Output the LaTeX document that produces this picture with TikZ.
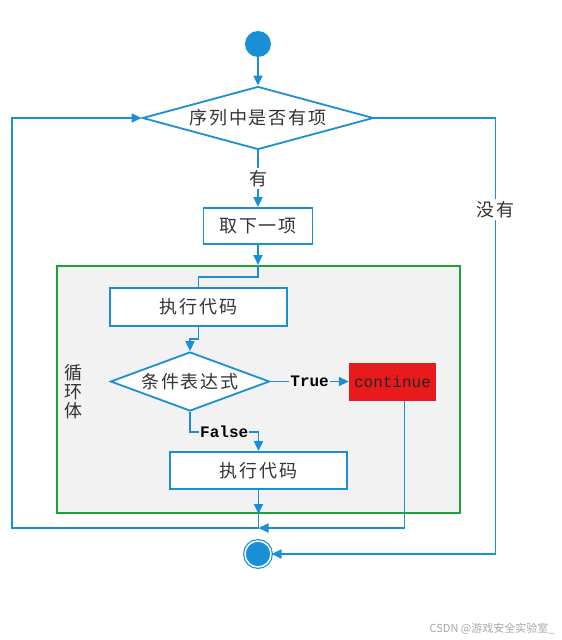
\documentclass[tikz,border=0pt]{standalone}
\usepackage{fontspec}
\setmainfont{Noto Sans CJK SC}[LetterSpace=10]
\newfontfamily\codefont{Liberation Mono}
\newfontfamily\markfont{Noto Sans CJK SC}
\usetikzlibrary{positioning,arrows.meta,shapes.geometric,calc}
\definecolor{flowblue}{HTML}{1A8FD6}
\definecolor{loopgreen}{HTML}{1FA03A}
\definecolor{loopgray}{HTML}{F2F2F2}
\definecolor{contred}{HTML}{E81A1C}

\begin{document}
\begin{tikzpicture}[x=1pt, y=-1pt,
    font=\fontsize{18}{19}\selectfont, text=black!80,
    line/.style={draw=flowblue, line width=1.8pt},
    flow/.style={line, -{Triangle[length=10pt,width=9pt]}},
    stepbox/.style={draw=flowblue, line width=1.8pt, fill=white, rectangle, minimum height=37pt},
    test/.style={draw=flowblue, line width=1.8pt, fill=white, diamond, inner sep=0pt},
    tf/.style={font=\codefont\bfseries\fontsize{16}{16}\selectfont, text=black, fill=loopgray, inner sep=1pt},
    lbl/.style={fill=white, inner sep=2pt}]
    \useasboundingbox (0,0) rectangle (562,640);

    % Loop body
    \node[draw=loopgreen, line width=2pt, fill=loopgray, minimum width=403pt, minimum height=247pt] (loopbox) at (258.5,389.5) {};
    \node[align=center] (looplbl) at (73,392) {循\\环\\体};

    % Start and end
    \node[circle, fill=flowblue, minimum size=26pt, inner sep=0pt] (start) at (258,44) {};
    \node[circle, fill=flowblue, draw=flowblue, double=white, double distance=1.5pt, line width=1.2pt, minimum size=26pt, inner sep=0pt] (finish) at (258,554) {};

    % Steps
    \node[test, aspect=3.67, minimum width=231pt, minimum height=63pt] (q1) at (258,118) {序列中是否有项};
    \node[stepbox, minimum width=109pt, minimum height=36pt] (take) at (258,226) {取下一项};
    \node[stepbox, minimum width=177pt, minimum height=38pt] (exec1) at (198.5,307) {执行代码};
    \node[test, aspect=2.7, minimum width=159pt, minimum height=59pt] (cond) at (190,381.5) {条件表达式};
    \node[fill=contred, minimum width=87pt, minimum height=38pt, text=black!85, font=\codefont\fontsize{16}{16}\selectfont] (cont) at (392.5,381.5) {continue};
    \node[stepbox, minimum width=177pt] (exec2) at (258.5,470.5) {执行代码};

    % Helper points
    \coordinate (merge) at ($(exec2.south |- loopbox.south)+(0,14)$);
    \coordinate (back) at ($(q1.west)+(-130,0)$);
    \coordinate (noturn) at ($(q1.east)+(121,0)$);

    % Arrows
    \draw[flow] (start) -- (q1);
    \draw[flow] (q1) -- node[lbl]{有} (take);
    \draw[flow] (take) -- (take |- loopbox.north);
    \draw[line] (take |- loopbox.north) -- ++(0,12) -| (exec1);
    \draw[flow] (exec1.south) -- ++(0,12) -| (cond);
    \draw[flow] (cond) -- node[tf]{True} (cont);
    \draw[flow] (cond.south) |- node[tf, pos=0.75]{False} ($(exec2.north)+(0,-19)$) -- (exec2);
    \draw[flow] (exec2) -- (exec2 |- loopbox.south);
    \draw[flow] (exec2 |- loopbox.south) -- (merge) -| (back) -- (q1);
    \draw[flow] ($(cont.south)+(12,0)$) |- (merge);
    \draw[flow] (q1) -- (noturn) |- node[lbl, pos=0.105]{没有} (finish);

    % Watermark
    \node[anchor=east, text=black!35, font=\markfont\fontsize{11}{12}\selectfont] (mark) at (558,629) {CSDN @游戏安全实验室\_};
\end{tikzpicture}
\end{document}
